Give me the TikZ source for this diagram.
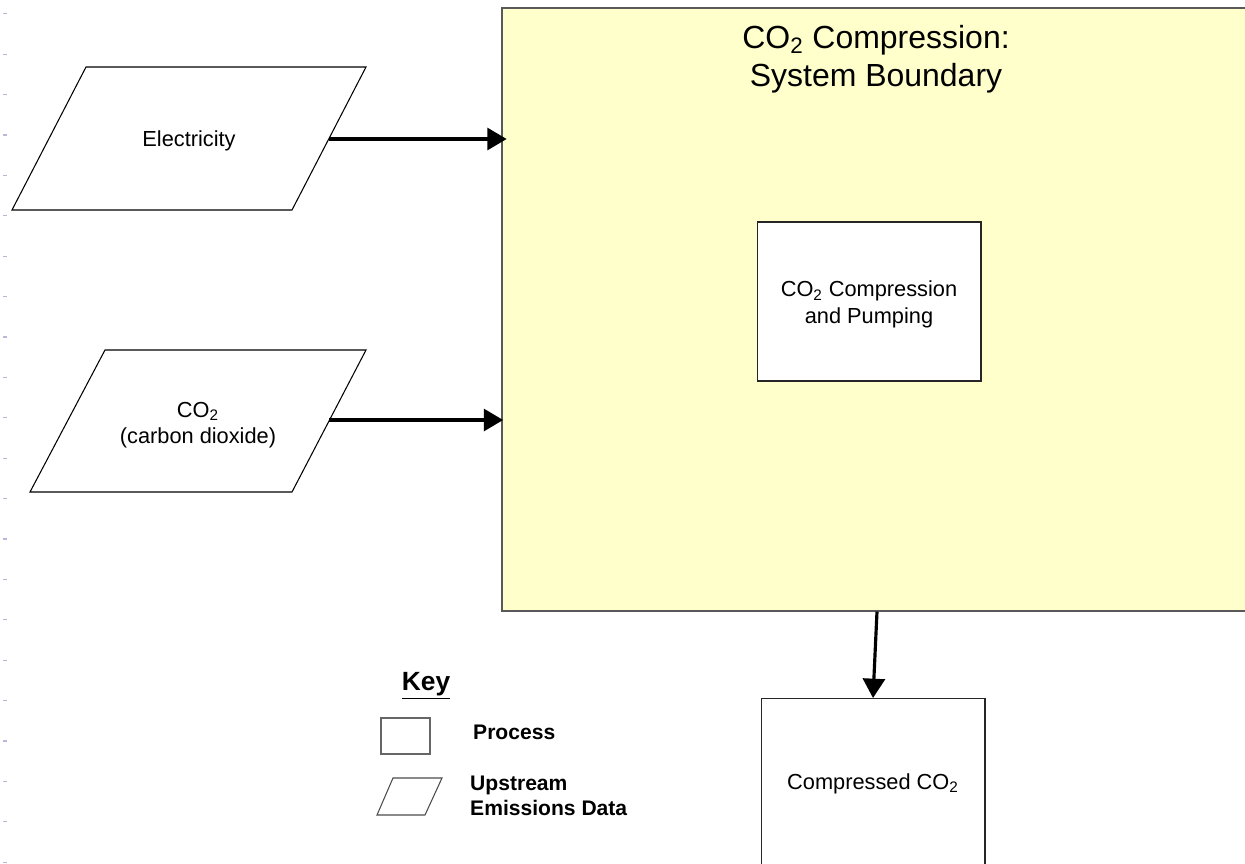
\documentclass[tikz,border=0pt]{standalone}
\usepackage{fontspec}
\setmainfont{Liberation Sans}
\usetikzlibrary{arrows.meta}
\usetikzlibrary{positioning}
\usetikzlibrary{calc}
\definecolor{boundaryfill}{RGB}{255,255,204}
\definecolor{rulertick}{RGB}{185,185,215}

\begin{document}
\begin{tikzpicture}[x=0.02cm, y=-0.02cm,
    flow/.style={line width=1.8pt, -{Triangle[length=11pt,width=12.5pt]}},
    procbox/.style={draw=black!85, fill=white, line width=0.6pt, inner sep=0pt,
      align=center, font=\fontsize{12.4}{15}\selectfont},
    datatext/.style={align=center, font=\fontsize{12.4}{15}\selectfont},
    keytext/.style={align=left, font=\bfseries\fontsize{12}{14.2}\selectfont}]
  \clip (0, 0) rectangle (1245, 863);

  % ruler ticks on the left edge
  \foreach \i in {0, 1, ..., 21}
    \draw[rulertick, line width=0.6pt] (3, 13.8 + 40.4*\i) -- +(4, 0);

  % system boundary
  \node[draw=black!65, fill=boundaryfill, line width=0.8pt, inner sep=0pt,
    minimum width=15cm, minimum height=12.06cm] (boundary) at (877, 309.5) {};
  \node[align=center, font=\fontsize{18.2}{21.6}\selectfont] (title) at (876, 59)
    {CO\textsubscript{2} Compression:\\System Boundary};

  \node[procbox, minimum width=4.48cm, minimum height=3.18cm] (pump) at (869, 301.5) {};
  \node[datatext] (pump text) at (869, 304.5) {CO\textsubscript{2} Compression\\and Pumping};

  % upstream inputs
  \draw[line width=0.6pt] (86, 67) -- (366, 67) -- (292, 210) -- (12, 210) -- cycle;
  \node[datatext] (elec) at (189, 141) {Electricity};
  \coordinate (elec out) at (329, 139);

  \draw[line width=0.6pt] (105, 350) -- (366, 350) -- (292, 492) -- (30, 492) -- cycle;
  \node[datatext] (co2) at (198, 425) {CO\textsubscript{2}\\(carbon dioxide)};
  \coordinate (co2 out) at (329, 420);

  \draw[flow] (elec out) -- ([xshift=3] elec out -| boundary.west);
  \draw[flow] (co2 out) -- ([xshift=1] co2 out -| boundary.west);

  % product
  \node[procbox, minimum width=4.48cm, minimum height=3.4cm, anchor=north] (product)
    at (873, 698) {\raisebox{-1.5pt}{Compressed CO\textsubscript{2}}};
  \draw[flow] (boundary.south) -- (product.north);

  % key
  \node[font=\bfseries\fontsize{15}{18}\selectfont] (key) at (426, 686) {\underline{Key}};
  \node[draw=black!60, line width=0.6pt, inner sep=0pt,
    minimum width=0.98cm, minimum height=0.72cm] (keyproc) at (405.5, 736) {};
  \node[keytext, anchor=west] (keyproc label) at (467, 732) {Process};
  \draw[black!70, line width=0.6pt] (393, 778) -- (442, 778) -- (425, 815) -- (377, 815) -- cycle;
  \node[keytext, anchor=west] (keydata label) at (464, 796) {Upstream\\Emissions Data};
\end{tikzpicture}
\end{document}
